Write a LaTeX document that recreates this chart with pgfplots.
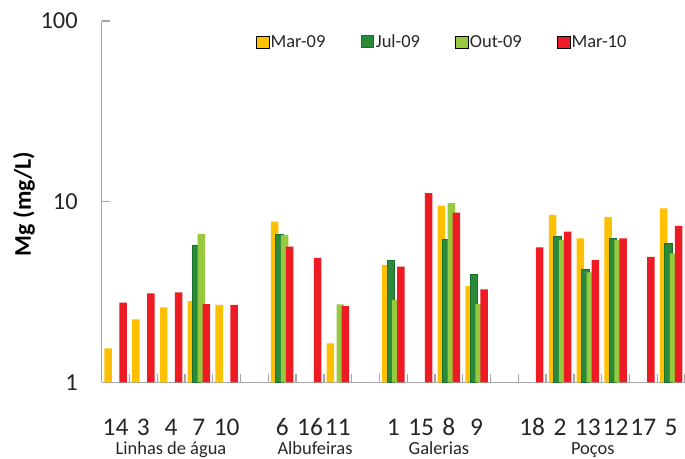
\documentclass[border=0pt]{standalone}
\usepackage{pgfplots}
\pgfplotsset{compat=1.18}
\usepackage{fontspec}
\setmainfont{Carlito}
\setsansfont{Carlito}

\definecolor{mar09}{HTML}{FFC000}
\definecolor{jul09}{HTML}{2A8A3A}
\definecolor{jul09edge}{HTML}{18702C}
\definecolor{out09}{HTML}{96C93D}
\definecolor{mar10}{HTML}{ED1C24}
\definecolor{axisgray}{HTML}{A6A6A6}
\definecolor{txt}{HTML}{262626}

% Mg concentrations per sampling point (slot index along x)
\pgfplotstableread{
x y
1 1.54
2 2.23
3 2.60
4 2.81
5 2.68
7 7.75
9 1.64
11 4.46
13 9.50
14 3.41
17 8.44
18 6.27
19 8.20
21 9.19
}\marnove
\pgfplotstableread{
x y
4 5.71
7 6.62
11 4.71
13 6.19
14 3.96
17 6.38
18 4.19
19 6.22
21 5.88
}\julnove
\pgfplotstableread{
x y
4 6.62
7 6.54
9 2.70
11 2.86
13 9.80
14 2.71
17 6.15
18 4.06
19 6.14
21 5.18
}\outnove
\pgfplotstableread{
x y
1 2.76
2 3.11
3 3.15
4 2.71
5 2.68
7 5.63
8 4.88
9 2.64
11 4.37
12 11.13
13 8.69
14 3.27
16 5.59
17 6.82
18 4.76
19 6.27
20 4.94
21 7.34
}\mardez

\begin{document}
\begin{tikzpicture}
\useasboundingbox (0,0) rectangle (685bp,459bp);
\begin{axis}[
  at={(101.7bp,76.7bp)}, anchor=south west,
  scale only axis, width=583.3bp, height=361.3bp,
  ymode=log, ymin=1, ymax=100, xmin=0.5, xmax=21.5,
  clip=false,
  axis x line*=bottom, axis y line*=left,
  every non boxed x axis/.append style={xtick align=outside},
  every non boxed y axis/.append style={ytick align=inside},
  axis line style={draw=axisgray, line width=1.3bp},
  tick style={draw=axisgray, line width=1.3bp},
  major tick length=8bp,
  % tick marks sit on the slot boundaries; each name is moved half a slot
  % to the right, into the middle of its own slot
  xtick={0.5,1.5,...,21.5},
  xticklabels={14,3,4,7,10,,6,16,11,,1,15,8,9,,18,2,13,12,17,5,},
  xticklabel style={font=\fontsize{25.5}{30}\selectfont, text=txt, anchor=base,
    xshift=13.89bp, yshift=-53.5bp},
  ytick={1,10,100}, yticklabels={1,10,100},
  yminorticks=false,
  yticklabel style={font=\fontsize{24.5}{29}\selectfont, text=txt, xshift=-20.5bp},
  ylabel={Mg (mg/L)},
  ylabel style={at={(axis description cs:-0.1332,0.494)}, anchor=center,
    font=\fontsize{24}{28}\selectfont\bfseries, text=black},
  legend columns=4,
  legend style={at={(axis description cs:0.2645,0.9424)}, anchor=west,
    draw=none, fill=none, inner sep=0pt, font=\fontsize{18.5}{22}\selectfont, text=txt,
    nodes={inner sep=1.5bp},
    /tikz/every even column/.append style={column sep=34bp}},
  legend image code/.code={\draw[#1] (0bp,-6bp) rectangle (12.5bp,6bp);},
]
\addplot[ybar, bar width=7.5bp, bar shift=-7.5bp, fill=mar09, draw=none] table {\marnove};
\addplot[ybar, bar width=7.5bp, bar shift=-2.5bp, fill=jul09, draw=jul09edge, line width=1bp] table {\julnove};
\addplot[ybar, bar width=7.5bp, bar shift=2.5bp, fill=out09, draw=none] table {\outnove};
\addplot[ybar, bar width=7.5bp, bar shift=7.5bp, fill=mar10, draw=none] table {\mardez};
\legend{Mar-09, Jul-09, Out-09, Mar-10}

\begin{scope}[every node/.style={font=\fontsize{18.5}{22}\selectfont, text=txt, anchor=base}]
\node at (axis cs:2.995,1) [yshift=-72.5bp] {Linhas de água};
\node at (axis cs:8.18,1) [yshift=-72.5bp] {Albufeiras};
\node at (axis cs:12.64,1) [yshift=-72.5bp] {Galerias};
\node at (axis cs:18.18,1) [yshift=-72.5bp] {Poços};
\end{scope}
\end{axis}
\end{tikzpicture}
\end{document}
